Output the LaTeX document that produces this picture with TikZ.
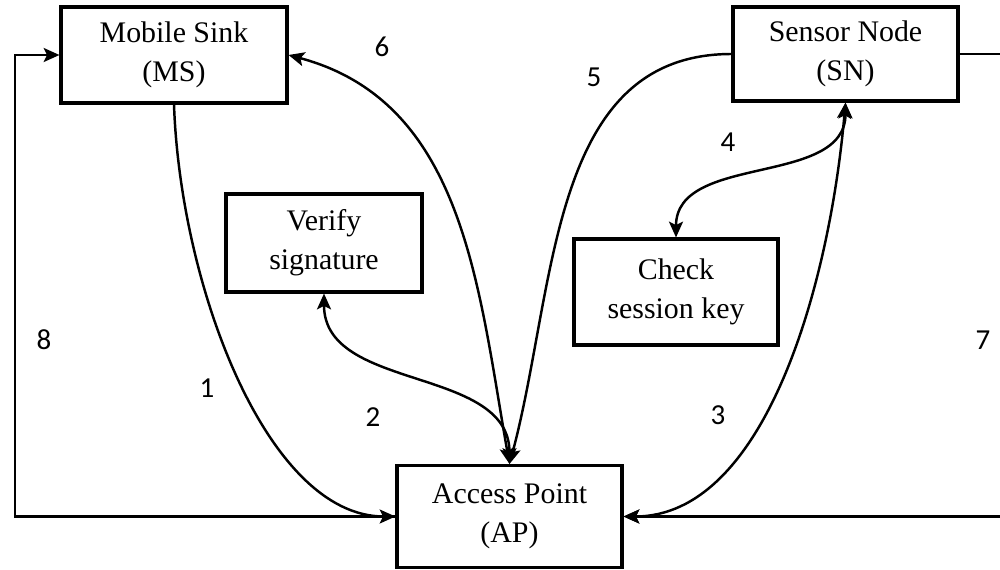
\documentclass[tikz,border=0pt]{standalone}
\usepackage{fontspec}
\setmainfont{Liberation Serif}
\newfontfamily\numfont{Carlito}
\usetikzlibrary{shapes,arrows,arrows.meta,positioning,calc}

\begin{document}
\begin{tikzpicture}[x=0.02cm, y=0.02cm]

% Define styles
\tikzstyle{entity} = [rectangle, minimum width=4.5cm, minimum height=1.9cm, text centered, align=center, draw=black, line width=1.8pt, font=\fontsize{17}{22}\selectfont]
\tikzstyle{check} = [entity, minimum width=4cm, minimum height=2cm]
\tikzstyle{stepnum} = [font=\numfont\fontsize{16.5}{19}\selectfont]
\tikzstyle{arrow} = [line width=1.4pt, ->, >={Stealth[length=9pt, width=8pt, inset=2pt]}]
\tikzstyle{twoway} = [line width=1.4pt, <->, >={Stealth[length=9pt, width=8pt, inset=2pt]}]

\useasboundingbox (0,0) rectangle (1000,569);

% PARTIES
\node (ms) [entity, minimum width=4.52cm, minimum height=1.92cm] at (174,514) {Mobile Sink\\(MS)};
\node (sn) [entity, minimum height=1.88cm] at (845.5,515) {Sensor Node\\(SN)};
\node (ap) [entity, minimum height=2.04cm] at (509.5,52.5) {Access Point\\(AP)};

% LOCAL CHECKS
\node (verify) [check, minimum width=3.92cm, minimum height=1.96cm] at (324,326) {Verify\\signature};
\node (sesskey) [check, minimum width=4.08cm, minimum height=2.12cm] at (676,277) {Check\\session key};

% Outer loops
\coordinate (left8) at (15,52.5);
\coordinate (right7) at (1012,52.5);
\draw [arrow] (ap.west) -- (left8) |- (ms.west);
\draw [arrow] (sn.east) -| (right7) -- (ap.east);

% Messages through the access point
\draw [arrow] (ms.south) to[out=-88, in=180, out looseness=1, in looseness=0.7] (ap.west);
\draw [twoway] (verify.south) to[out=-90, in=90] (ap.north);
\draw [twoway] (sn.south) to[out=-95, in=0, out looseness=1, in looseness=0.77] (ap.east);
\draw [twoway] (sn.south) to[out=-90, in=90] (sesskey.north);
\draw [arrow] (sn.west) to[out=180, in=75] (ap.north);
\draw [twoway] (ap.north) to[out=100, in=-15] (ms.east);

% Step numbers
\node (lab1) [stepnum] at (207,181) {1};
\node (lab2) [stepnum] at (373,152) {2};
\node (lab3) [stepnum] at (718,154) {3};
\node (lab4) [stepnum] at (728,427) {4};
\node (lab5) [stepnum] at (594,492) {5};
\node (lab6) [stepnum] at (382,522) {6};
\node (lab7) [stepnum] at (983,229) {7};
\node (lab8) [stepnum] at (44,229) {8};

\end{tikzpicture}
\end{document}
